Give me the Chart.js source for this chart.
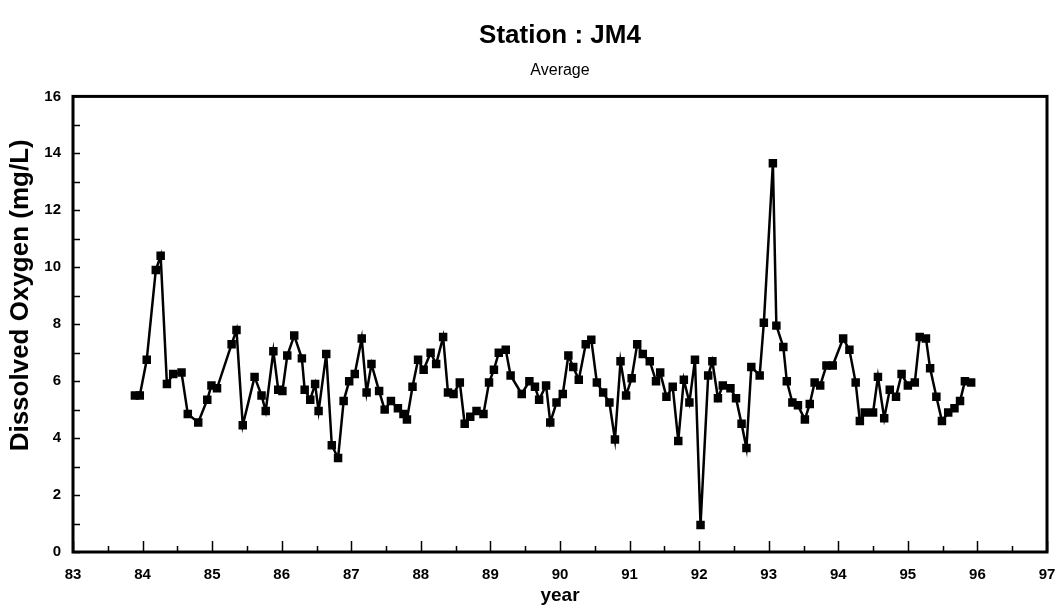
<!DOCTYPE html>
<html>
<head>
<meta charset="utf-8">
<title>Station : JM4</title>
<script src="https://cdn.jsdelivr.net/npm/chart.js@4/dist/chart.umd.min.js"></script>
<style>
  html, body { margin: 0; padding: 0; background: #fff; }
  canvas { display: block; }
</style>
</head>
<body>
<canvas id="myChart" width="1062" height="610"></canvas>
<script>
// sampling dates (decimal year, 83 = 1983)
const years = [
    83.89, 83.96, 84.06, 84.19, 84.26, 84.35, 84.44, 84.56, 84.65, 84.80,
    84.93, 84.99, 85.07, 85.28, 85.35, 85.44, 85.61, 85.71, 85.77, 85.88,
    85.95, 86.01, 86.08, 86.18, 86.29, 86.33, 86.41, 86.48, 86.53, 86.64,
    86.72, 86.81, 86.89, 86.97, 87.05, 87.15, 87.22, 87.29, 87.40, 87.48,
    87.57, 87.67, 87.75, 87.80, 87.88, 87.96, 88.04, 88.14, 88.22, 88.32,
    88.39, 88.47, 88.56, 88.63, 88.71, 88.80, 88.90, 88.98, 89.05, 89.12,
    89.22, 89.29, 89.45, 89.56, 89.64, 89.70, 89.80, 89.86, 89.95, 90.04,
    90.12, 90.19, 90.27, 90.37, 90.45, 90.53, 90.62, 90.71, 90.79, 90.87,
    90.95, 91.03, 91.11, 91.19, 91.29, 91.38, 91.44, 91.53, 91.62, 91.70,
    91.78, 91.86, 91.94, 92.02, 92.13, 92.19, 92.27, 92.34, 92.45, 92.53,
    92.61, 92.68, 92.75, 92.87, 92.93, 93.06, 93.11, 93.21, 93.26, 93.34,
    93.42, 93.52, 93.59, 93.66, 93.74, 93.83, 93.92, 94.07, 94.16, 94.25,
    94.31, 94.38, 94.50, 94.57, 94.66, 94.74, 94.83, 94.91, 95.00, 95.10,
    95.17, 95.26, 95.32, 95.41, 95.49, 95.58, 95.67, 95.75, 95.82, 95.91
];

// dissolved oxygen, mg/L
const oxygen = [
    5.5, 5.5, 6.75, 9.9, 10.4, 5.9, 6.25, 6.3, 4.85, 4.55,
    5.35, 5.85, 5.75, 7.3, 7.8, 4.45, 6.15, 5.5, 4.95, 7.05,
    5.7, 5.65, 6.9, 7.6, 6.8, 5.7, 5.35, 5.9, 4.95, 6.95,
    3.75, 3.3, 5.3, 6.0, 6.25, 7.5, 5.6, 6.6, 5.65, 5.0,
    5.3, 5.05, 4.85, 4.65, 5.8, 6.75, 6.4, 7.0, 6.6, 7.55,
    5.6, 5.55, 5.95, 4.5, 4.75, 4.95, 4.85, 5.95, 6.4, 7.0,
    7.1, 6.2, 5.55, 6.0, 5.8, 5.35, 5.85, 4.55, 5.25, 5.55,
    6.9, 6.5, 6.05, 7.3, 7.45, 5.95, 5.6, 5.25, 3.95, 6.7,
    5.5, 6.1, 7.3, 6.95, 6.7, 6.0, 6.3, 5.45, 5.8, 3.9,
    6.05, 5.25, 6.75, 0.95, 6.2, 6.7, 5.4, 5.85, 5.75, 5.4,
    4.5, 3.65, 6.5, 6.2, 8.05, 13.65, 7.95, 7.2, 6.0, 5.25,
    5.15, 4.65, 5.2, 5.95, 5.85, 6.55, 6.55, 7.5, 7.1, 5.95,
    4.6, 4.9, 4.9, 6.15, 4.7, 5.7, 5.45, 6.25, 5.85, 5.95,
    7.55, 7.5, 6.45, 5.45, 4.6, 4.9, 5.05, 5.3, 6.0, 5.95
];

// axis ranges / tick steps
const xRange = [83, 97];
const yRange = [0, 16];
const xLabelStep = 1;
const xMinorStep = 0.5;
const yLabelStep = 2;
const yMinorStep = 1;

const points = years.map((yr, i) => ({ x: yr, y: oxygen[i] }));

Chart.defaults.font.family = 'Arial, "Liberation Sans", sans-serif';
Chart.defaults.color = '#000';

// frame + inward pointing tick marks (like the old plotting package)
const frameTicks = {
    id: 'frameTicks',
    afterDraw(chart) {
        const c = chart.ctx;
        const a = chart.chartArea;
        const xs = chart.scales.x;
        const ys = chart.scales.y;
        c.save();
        c.strokeStyle = '#000';
        c.lineWidth = 1.5;
        c.beginPath();
        for (let v = xRange[0]; v <= xRange[1] + 1e-9; v += xMinorStep) {
            const px = Math.round(xs.getPixelForValue(v)) + 0.5;
            const major = Math.abs(v - Math.round(v)) < 1e-6;
            const len = major ? 11 : 6;
            c.moveTo(px, a.bottom);
            c.lineTo(px, a.bottom - len);
        }
        for (let v = yRange[0]; v <= yRange[1] + 1e-9; v += yMinorStep) {
            const py = Math.round(ys.getPixelForValue(v)) + 0.5;
            c.moveTo(a.left, py);
            c.lineTo(a.left + 7, py);
        }
        c.stroke();
        c.lineWidth = 3;
        c.strokeRect(a.left, a.top, a.right - a.left, a.bottom - a.top);
        c.restore();
    }
};

const ctx = document.getElementById('myChart').getContext('2d');
const myChart = new Chart(ctx, {
    type: 'line',
    data: {
        datasets: [{
            data: points,
            borderColor: '#000',
            backgroundColor: '#000',
            borderWidth: 2.5,
            pointStyle: 'rect',
            pointRadius: 6,
            pointBorderWidth: 0,
            tension: 0
        }]
    },
    options: {
        responsive: false,
        animation: false,
        events: [],
        layout: {
            padding: { left: 0, right: 15, top: 0, bottom: 0 }
        },
        plugins: {
            legend: { display: false },
            tooltip: { enabled: false },
            title: {
                display: true,
                text: 'Station : JM4',
                fullSize: false,
                font: { size: 26, weight: 'bold' },
                padding: { top: 20, bottom: 8 }
            },
            subtitle: {
                display: true,
                text: 'Average',
                fullSize: false,
                font: { size: 16, weight: 'normal' },
                padding: { top: 2, bottom: 16 }
            }
        },
        scales: {
            x: {
                type: 'linear',
                min: xRange[0],
                max: xRange[1],
                grid: { display: false, drawTicks: false },
                border: { display: false },
                ticks: {
                    stepSize: xLabelStep,
                    padding: 14,
                    font: { size: 15, weight: 'bold' },
                    maxRotation: 0
                },
                title: {
                    display: true,
                    text: 'year',
                    font: { size: 19, weight: 'bold' },
                    padding: { top: 2, bottom: 3 }
                },
                afterFit(scale) {
                    scale.height = 58;
                    // labels at the ends may hang over, no extra room needed
                    scale.paddingLeft = 0;
                    scale.paddingRight = 0;
                }
            },
            y: {
                min: yRange[0],
                max: yRange[1],
                grid: { display: false, drawTicks: false },
                border: { display: false },
                ticks: {
                    stepSize: yLabelStep,
                    padding: 12,
                    font: { size: 15, weight: 'bold' }
                },
                title: {
                    display: true,
                    // leading spaces push the label up a bit, as in the original
                    text: '        Dissolved Oxygen (mg/L)',
                    font: { size: 26, weight: 'bold' },
                    padding: { top: 5, bottom: 0 }
                },
                afterFit(scale) { scale.width = 73; }
            }
        }
    },
    plugins: [frameTicks]
});
</script>
</body>
</html>
